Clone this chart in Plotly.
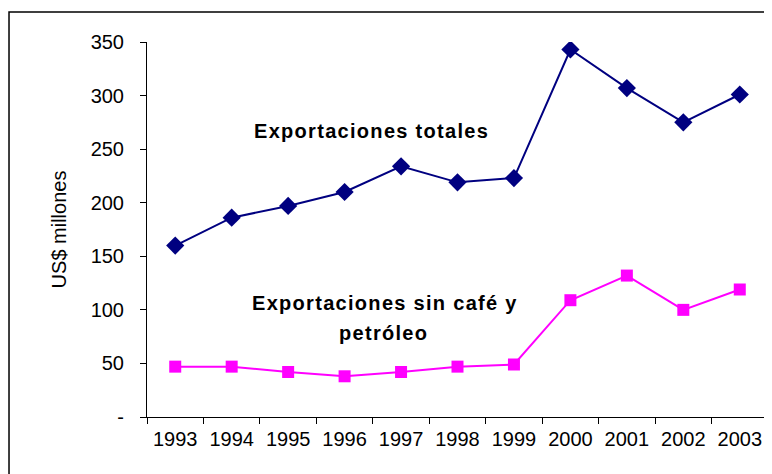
import plotly.graph_objects as go

years = ["1993", "1994", "1995", "1996", "1997", "1998", "1999", "2000", "2001", "2002", "2003"]
exportaciones_totales = [160, 186, 197, 210, 234, 219, 223, 343, 307, 275, 301]
exportaciones_sin_cafe = [47, 47, 42, 38, 42, 47, 49, 109, 132, 100, 119]
y_ticks = [0, 50, 100, 150, 200, 250, 300, 350]
y_tick_labels = ["-", "50", "100", "150", "200", "250", "300", "350"]

fig = go.Figure()

fig.add_trace(go.Scatter(
    x=years, y=exportaciones_totales,
    mode="lines+markers",
    line=dict(color="#000080", width=2),
    marker=dict(symbol="diamond", size=14, color="#000080"),
    name="Exportaciones totales",
))
fig.add_trace(go.Scatter(
    x=years, y=exportaciones_sin_cafe,
    mode="lines+markers",
    line=dict(color="#FF00FF", width=2),
    marker=dict(symbol="square", size=12, color="#FF00FF"),
    name="Exportaciones sin café y petróleo",
))


def spaced(txt):
    # bold text with a bit of letter spacing, like the original
    return f'<span style="letter-spacing:1.3px"><b>{txt}</b></span>'


# Labels inside the plot
label_font = dict(family="Liberation Sans, Arial", size=20, color="#000000")
labels = [
    ("Exportaciones totales", 0.361, 0.763),
    ("Exportaciones sin café y", 0.383, 0.304),
    ("petróleo", 0.381, 0.224),
]
for txt, lx, ly in labels:
    fig.add_annotation(
        x=lx, y=ly, xref="paper", yref="paper",
        xanchor="center", yanchor="middle",
        text=spaced(txt), showarrow=False, font=label_font,
    )

# Outer frame (chart area border, cut off on the right/bottom)
fig.add_shape(
    type="rect", xref="paper", yref="paper",
    x0=-0.2222, y0=-0.3, x1=1.1, y1=1.08,
    line=dict(color="#000000", width=1.5),
)

# page has an 8px body margin, so margins are shifted by 8px
fig.update_layout(
    width=772, height=474,
    margin=dict(l=139, r=12, t=34, b=65),
    plot_bgcolor="white",
    paper_bgcolor="white",
    showlegend=False,
    font=dict(family="Liberation Sans, Arial", size=20, color="#000000"),
)
fig.update_xaxes(
    type="category", tickson="boundaries", range=[-0.5, 10.5],
    showline=True, linecolor="#000000", linewidth=1,
    ticks="outside", ticklen=6, tickcolor="#000000",
    showgrid=False, zeroline=False,
    tickfont=dict(size=20), ticklabelstandoff=4,
)
fig.update_yaxes(
    range=[0, 350], tickvals=y_ticks, ticktext=y_tick_labels,
    showline=True, linecolor="#000000", linewidth=1,
    ticks="outside", ticklen=6, tickcolor="#000000",
    showgrid=False, zeroline=False,
    tickfont=dict(size=20), ticklabelstandoff=12,
    title=dict(text="US$ millones", font=dict(size=20), standoff=18),
)

fig.write_html("out.html")
